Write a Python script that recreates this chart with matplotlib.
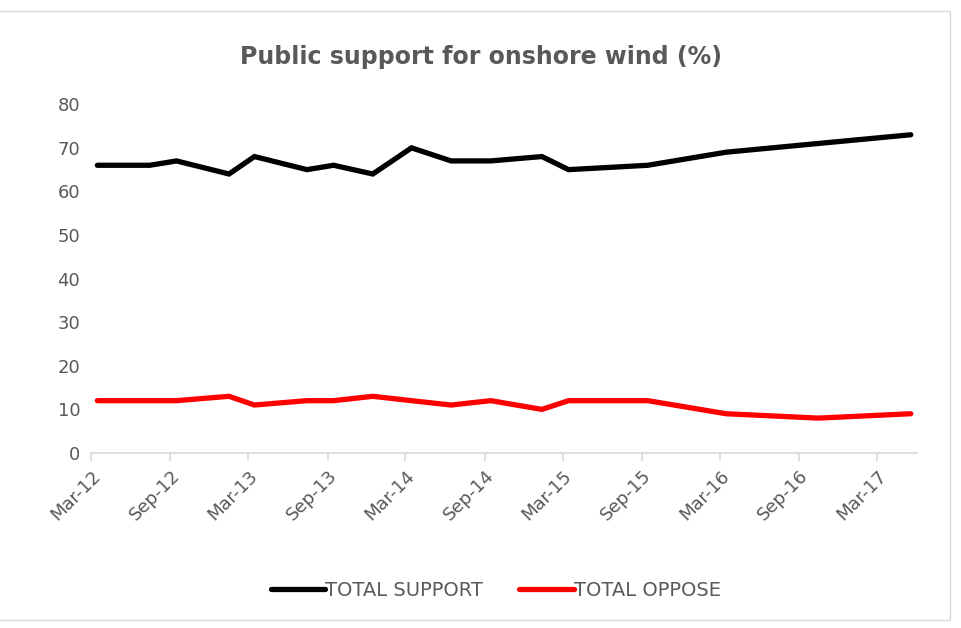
import datetime as dt
import matplotlib
matplotlib.use("Agg")
import matplotlib.pyplot as plt
import matplotlib.dates as mdates
from matplotlib.patches import Rectangle

# survey waves (fieldwork dates, roughly mid-month)
dates = ["2012-03-15", "2012-07-15", "2012-09-15", "2013-01-15", "2013-03-15", "2013-07-15",
         "2013-09-15", "2013-12-15", "2014-03-15", "2014-06-15", "2014-09-15", "2015-01-12",
         "2015-03-15", "2015-09-15", "2016-03-15", "2016-10-15", "2017-05-18"]
support = [66, 66, 67, 64, 68, 65, 66, 64, 70, 67, 67, 68, 65, 66, 69, 71, 73]
oppose = [12, 12, 12, 13, 11, 12, 12, 13, 12, 11, 12, 10, 12, 12, 9, 8, 9]
yticks = [0, 10, 20, 30, 40, 50, 60, 70, 80]

x = [dt.datetime.strptime(d, "%Y-%m-%d") for d in dates]
grey = "#595959"
plt.rcParams["font.family"] = ["DejaVu Sans"]

fig = plt.figure(figsize=(9.61, 6.28), dpi=100)
ax = fig.add_axes([0.095, 0.2787, 0.859, 0.5553])

ax.plot(x, support, color="black", lw=3.8, solid_capstyle="round", solid_joinstyle="miter", label="TOTAL SUPPORT")
ax.plot(x, oppose, color="#ff0000", lw=3.8, solid_capstyle="round", solid_joinstyle="miter", label="TOTAL OPPOSE")

ax.set_xlim(dt.datetime(2012, 3, 1), dt.datetime(2017, 6, 1))
ax.set_ylim(0, 80)
ax.set_yticks(yticks)

# tick every six months from Mar-12
ax.xaxis.set_major_locator(mdates.MonthLocator(bymonth=[3, 9]))
ax.xaxis.set_major_formatter(mdates.DateFormatter("%b-%y"))
for lab in ax.get_xticklabels():
    lab.set_rotation(45)
    lab.set_ha("right")
    lab.set_rotation_mode("anchor")

for s in ["top", "right", "left"]:
    ax.spines[s].set_visible(False)
ax.spines["bottom"].set_color("#d9d9d9")
ax.spines["bottom"].set_linewidth(1.2)
ax.tick_params(axis="y", length=0, labelsize=13, labelcolor=grey, pad=8)
ax.tick_params(axis="x", length=6, width=1.2, color="#d9d9d9", labelsize=13, labelcolor=grey, pad=4)

fig.text(0.5, 0.91, "Public support for onshore wind (%)", ha="center", va="center",
         fontsize=17, fontweight="bold", color=grey)

fig.legend(loc="center", bbox_to_anchor=(0.516, 0.06), ncol=2, frameon=False,
           fontsize=14, labelcolor=grey, handlelength=2.8, handletextpad=0.0, columnspacing=1.85)

fig.patches.append(Rectangle((-0.01, 0.013), 0.999, 0.97, transform=fig.transFigure,
                             fill=False, edgecolor="#d9d9d9", lw=1))

fig.savefig("out.png", dpi=100)
